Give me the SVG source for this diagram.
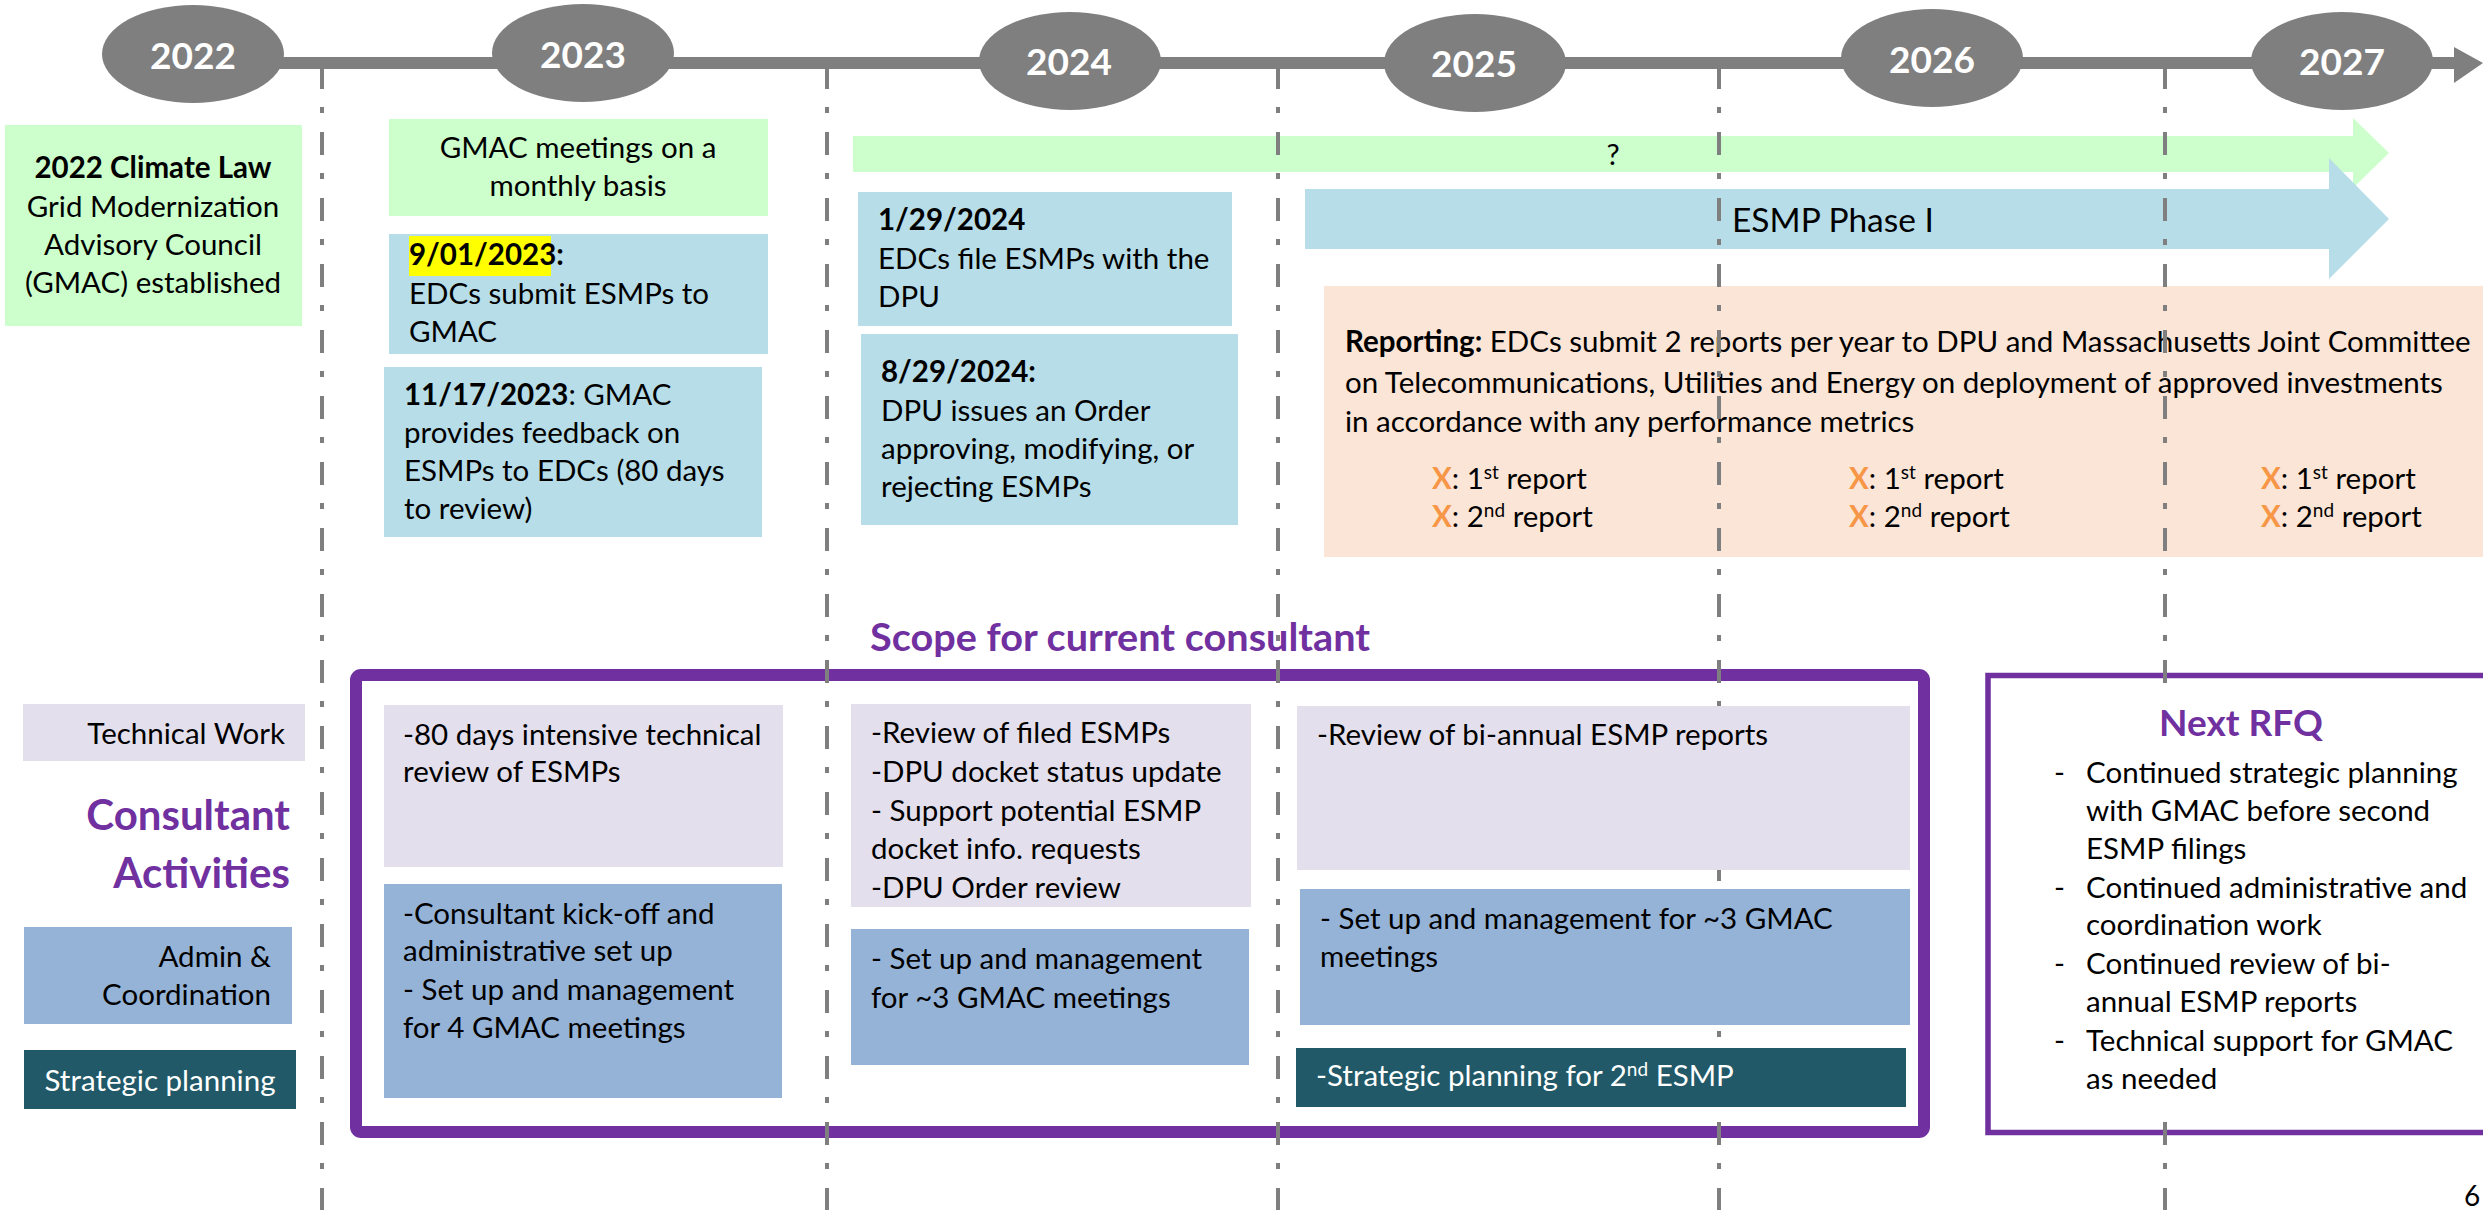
<svg xmlns="http://www.w3.org/2000/svg" width="2483" height="1210" viewBox="0 0 2483 1210">
<style>
text{font-family:Lato,"Noto Sans",sans-serif;font-size:29.5px;fill:#000}
.b{font-weight:bold}
.yr{font-weight:bold;font-size:37px;fill:#fff;text-anchor:middle}
.ell{fill:#7f7f7f}
.grn{fill:#ccffcc}
.blu{fill:#b7dde8}
.lav{fill:#e4dfec}
.adm{fill:#95b3d7}
.teal{fill:#215968}
.w{fill:#fff}
.pur{fill:#7030a0;font-weight:bold}
.x{fill:#f79646;font-weight:bold}
.mid{text-anchor:middle}
.end{text-anchor:end}
.sup{font-size:19px}
.vl{stroke:#7f7f7f;stroke-width:4;stroke-dasharray:23 18 6 19;fill:none}
</style>

<g id="timeline">
  <polygon points="193,57 2454,57 2454,47 2483,63 2454,83 2454,69 193,69" fill="#7f7f7f"/>
</g>
<g id="y2022"><ellipse class="ell" cx="193" cy="54" rx="91" ry="49"/><text class="yr" x="193" y="69">2022</text></g>
<g id="y2023"><ellipse class="ell" cx="583" cy="53" rx="91" ry="49"/><text class="yr" x="583" y="68">2023</text></g>
<g id="y2024"><ellipse class="ell" cx="1070" cy="61" rx="91" ry="49"/><text class="yr" x="1069" y="75">2024</text></g>
<g id="y2025"><ellipse class="ell" cx="1475" cy="63" rx="91" ry="49"/><text class="yr" x="1474" y="77">2025</text></g>
<g id="y2026"><ellipse class="ell" cx="1932" cy="58" rx="91" ry="49"/><text class="yr" x="1932" y="73">2026</text></g>
<g id="y2027"><ellipse class="ell" cx="2342" cy="61" rx="91" ry="49"/><text class="yr" x="2342" y="75">2027</text></g>

<g id="arrow-unknown">
  <polygon class="grn" points="853,136 2353,136 2353,118 2389,153 2353,188 2353,172 853,172"/>
  <text class="mid" x="1613" y="165">?</text>
</g>
<g id="arrow-esmp">
  <polygon class="blu" points="1305,189 2329,189 2329,158 2389,219 2329,279 2329,249 1305,249"/>
  <text x="1732" y="232" style="font-size:33.5px">ESMP Phase I</text>
</g>

<g id="reporting">
  <rect x="1324" y="286" width="1170" height="271" fill="#fbe5d6"/>
  <text x="1345" y="352"><tspan class="b">Reporting:</tspan> EDCs submit 2 reports per year to DPU and Massachusetts Joint Committee</text>
  <text x="1345" y="393">on Telecommunications, Utilities and Energy on deployment of approved investments</text>
  <text x="1345" y="432">in accordance with any performance metrics</text>
  <text x="1432" y="489"><tspan class="x">X</tspan>: 1<tspan class="sup" dy="-10">st</tspan><tspan dy="10"> report</tspan></text>
  <text x="1432" y="527"><tspan class="x">X</tspan>: 2<tspan class="sup" dy="-10">nd</tspan><tspan dy="10"> report</tspan></text>
  <text x="1849" y="489"><tspan class="x">X</tspan>: 1<tspan class="sup" dy="-10">st</tspan><tspan dy="10"> report</tspan></text>
  <text x="1849" y="527"><tspan class="x">X</tspan>: 2<tspan class="sup" dy="-10">nd</tspan><tspan dy="10"> report</tspan></text>
  <text x="2261" y="489"><tspan class="x">X</tspan>: 1<tspan class="sup" dy="-10">st</tspan><tspan dy="10"> report</tspan></text>
  <text x="2261" y="527"><tspan class="x">X</tspan>: 2<tspan class="sup" dy="-10">nd</tspan><tspan dy="10"> report</tspan></text>
</g>

<g id="scope-frame">
  <rect x="356" y="675" width="1568" height="457" rx="5" fill="none" stroke="#7030a0" stroke-width="12"/>
  <text class="pur" x="870" y="651" style="font-size:39px" textLength="500" lengthAdjust="spacingAndGlyphs">Scope for current consultant</text>
</g>
<g id="next-rfq">
  <rect x="1988" y="675.5" width="600" height="457" fill="#fff" stroke="#7030a0" stroke-width="5.5"/>
  <text class="pur mid" x="2241" y="736" style="font-size:37px">Next RFQ</text>
  <text x="2054" y="783">-</text><text x="2086" y="783">Continued strategic planning</text>
  <text x="2086" y="821">with GMAC before second</text>
  <text x="2086" y="859">ESMP filings</text>
  <text x="2054" y="898">-</text><text x="2086" y="898">Continued administrative and</text>
  <text x="2086" y="935">coordination work</text>
  <text x="2054" y="974">-</text><text x="2086" y="974">Continued review of bi-</text>
  <text x="2086" y="1012">annual ESMP reports</text>
  <text x="2054" y="1051">-</text><text x="2086" y="1051">Technical support for GMAC</text>
  <text x="2086" y="1089">as needed</text>
</g>

<g id="connectors">
  <path class="vl" d="M322 66V1210"/>
  <path class="vl" d="M827 66V1210"/>
  <path class="vl" d="M1278 66V1210"/>
  <path class="vl" d="M1719 66V1210"/>
  <path class="vl" d="M2165 66V690"/>
  <path class="vl" d="M2165 1122V1210"/>
</g>

<g id="climate-law">
  <rect class="grn" x="5" y="125" width="297" height="201"/>
  <text class="b mid" x="153" y="178">2022 Climate Law</text>
  <text class="mid" x="153" y="217">Grid Modernization</text>
  <text class="mid" x="153" y="255">Advisory Council</text>
  <text class="mid" x="153" y="293">(GMAC) established</text>
</g>
<g id="gmac-monthly">
  <rect class="grn" x="389" y="119" width="379" height="97"/>
  <text class="mid" x="578" y="158">GMAC meetings on a</text>
  <text class="mid" x="578" y="196">monthly basis</text>
</g>
<g id="submit-2023">
  <rect class="blu" x="389" y="234" width="379" height="120"/>
  <rect x="409" y="236" width="142" height="40" fill="#ffff00"/>
  <text class="b" x="409" y="265">9/01/2023:</text>
  <text x="409" y="304">EDCs submit ESMPs to</text>
  <text x="409" y="342">GMAC</text>
</g>
<g id="feedback-2023">
  <rect class="blu" x="384" y="367" width="378" height="170"/>
  <text x="404" y="405"><tspan class="b">11/17/2023</tspan>: GMAC</text>
  <text x="404" y="443">provides feedback on</text>
  <text x="404" y="481">ESMPs to EDCs (80 days</text>
  <text x="404" y="519">to review)</text>
</g>
<g id="file-2024">
  <rect class="blu" x="858" y="192" width="374" height="134"/>
  <text class="b" x="878" y="230">1/29/2024</text>
  <text x="878" y="269">EDCs file ESMPs with the</text>
  <text x="878" y="307">DPU</text>
</g>
<g id="order-2024">
  <rect class="blu" x="861" y="334" width="377" height="191"/>
  <text class="b" x="881" y="382">8/29/2024:</text>
  <text x="881" y="421">DPU issues an Order</text>
  <text x="881" y="459">approving, modifying, or</text>
  <text x="881" y="497">rejecting ESMPs</text>
</g>

<g id="label-technical">
  <rect class="lav" x="23" y="704" width="282" height="57"/>
  <text class="end" x="285" y="744">Technical Work</text>
</g>
<g id="label-consultant">
  <text class="pur end" x="290" y="830" style="font-size:42px">Consultant</text>
  <text class="pur end" x="290" y="888" style="font-size:42px">Activities</text>
</g>
<g id="label-admin">
  <rect class="adm" x="24" y="927" width="268" height="97"/>
  <text class="end" x="271" y="967">Admin &amp;</text>
  <text class="end" x="271" y="1005">Coordination</text>
</g>
<g id="label-strategic">
  <rect class="teal" x="24" y="1050" width="272" height="59"/>
  <text class="w mid" x="160" y="1091">Strategic planning</text>
</g>

<g id="c1-tech">
  <rect class="lav" x="384" y="705" width="399" height="162"/>
  <text x="403" y="745">-80 days intensive technical</text>
  <text x="403" y="782">review of ESMPs</text>
</g>
<g id="c1-admin">
  <rect class="adm" x="384" y="884" width="398" height="214"/>
  <text x="403" y="924">-Consultant kick-off and</text>
  <text x="403" y="961">administrative set up</text>
  <text x="403" y="1000">- Set up and management</text>
  <text x="403" y="1038">for 4 GMAC meetings</text>
</g>
<g id="c2-tech">
  <rect class="lav" x="851" y="704" width="400" height="203"/>
  <text x="871" y="743">-Review of filed ESMPs</text>
  <text x="871" y="782">-DPU docket status update</text>
  <text x="871" y="821">- Support potential ESMP</text>
  <text x="871" y="859">docket info. requests</text>
  <text x="871" y="898">-DPU Order review</text>
</g>
<g id="c2-admin">
  <rect class="adm" x="851" y="929" width="398" height="136"/>
  <text x="871" y="969">- Set up and management</text>
  <text x="871" y="1008">for ~3 GMAC meetings</text>
</g>
<g id="c3-tech">
  <rect class="lav" x="1297" y="706" width="613" height="164"/>
  <text x="1317" y="745">-Review of bi-annual ESMP reports</text>
</g>
<g id="c3-admin">
  <rect class="adm" x="1300" y="889" width="610" height="136"/>
  <text x="1320" y="929">- Set up and management for ~3 GMAC</text>
  <text x="1320" y="967">meetings</text>
</g>
<g id="c3-strategic">
  <rect class="teal" x="1296" y="1048" width="610" height="59"/>
  <text class="w" x="1316" y="1086">-Strategic planning for 2<tspan class="sup" dy="-10">nd</tspan><tspan dy="10"> ESMP</tspan></text>
</g>

<text x="2464" y="1206" style="font-size:28px">6</text>
</svg>
